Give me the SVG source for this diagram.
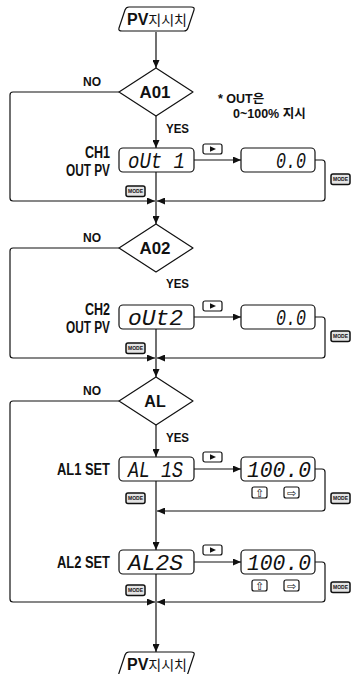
<svg xmlns="http://www.w3.org/2000/svg" width="351" height="674" viewBox="0 0 351 674">
<style>
.ln{fill:none;stroke:#111;stroke-width:1.2}
.shape{fill:#fff;stroke:#111;stroke-width:1.2;stroke-linejoin:round}
.b{font-family:"Liberation Sans","Noto Sans CJK KR",sans-serif;font-weight:bold;fill:#111}
.big{font-size:16px}
.sm{font-size:12px}
.seg{font-family:"Liberation Mono",monospace;font-style:italic;font-size:22px;fill:#111}
.kr{font-family:"Noto Sans CJK KR",sans-serif;font-weight:normal;fill:#111}
.btn{fill:#fff;stroke:#111;stroke-width:1.2}
.mode{fill:#e4e4e4;stroke:#111;stroke-width:1.5}
.mt{font-family:"Liberation Sans",sans-serif;font-weight:bold;font-size:6px;fill:#111}
.sym{font-family:"DejaVu Sans",sans-serif;font-size:11px;fill:#111}
</style>
<defs>
<marker id="ah" markerUnits="userSpaceOnUse" markerWidth="8" markerHeight="7" refX="8" refY="3.5" orient="auto">
<path d="M0,0 L8,3.5 L0,7 z" fill="#111"/>
</marker>
<g id="modebtn"><rect class="mode" x="0" y="0" width="19" height="10.5" rx="2"/><text class="mt" x="2" y="7.4" textLength="15" lengthAdjust="spacingAndGlyphs">MODE</text></g>
<g id="playbtn"><rect class="btn" x="0" y="0" width="19" height="10" rx="2"/><path d="M7,2.3 L13,5 L7,7.7 z" fill="#111"/></g>
</defs>

<g id="connectors">
<path class="ln" marker-end="url(#ah)" d="M156,32 V68"/>
<path class="ln" marker-end="url(#ah)" d="M156,116 V148"/>
<path class="ln" marker-end="url(#ah)" d="M119,92 H13 Q10,92 10,95 V198 Q10,201 13,201 H155"/>
<path class="ln" marker-end="url(#ah)" d="M194,160 H241"/>
<path class="ln" marker-end="url(#ah)" d="M315,160 H322 Q325,160 325,163 V198 Q325,201 322,201 H157"/>
<path class="ln" marker-end="url(#ah)" d="M156,172 V224"/>
<path class="ln" marker-end="url(#ah)" d="M119,248 H13 Q10,248 10,251 V355 Q10,358 13,358 H155"/>
<path class="ln" marker-end="url(#ah)" d="M194,317 H241"/>
<path class="ln" marker-end="url(#ah)" d="M315,317 H322 Q325,317 325,320 V355 Q325,358 322,358 H157"/>
<path class="ln" marker-end="url(#ah)" d="M156,329 V377"/>
<path class="ln" marker-end="url(#ah)" d="M119,401 H13 Q10,401 10,404 V599 Q10,602 13,602 H155"/>
<path class="ln" marker-end="url(#ah)" d="M156,425 V457"/>
<path class="ln" marker-end="url(#ah)" d="M194,469 H241"/>
<path class="ln" marker-end="url(#ah)" d="M315,469 H322 Q325,469 325,472 V508 Q325,511 322,511 H157"/>
<path class="ln" marker-end="url(#ah)" d="M156,481 V550"/>
<path class="ln" marker-end="url(#ah)" d="M194,562 H241"/>
<path class="ln" marker-end="url(#ah)" d="M315,562 H322 Q325,562 325,565 V599 Q325,602 322,602 H157"/>
<path class="ln" marker-end="url(#ah)" d="M156,574 V652"/>
</g>

<g id="start">
<path class="shape" d="M129,7 H191 Q195,7 194,10 L188,28 Q187,31 184,31 H122 Q118,31 119,28 L125,10 Q126,7 129,7 z"/>
<text x="157" y="25" text-anchor="middle"><tspan class="b" font-size="16">PV</tspan><tspan class="kr" font-size="14">지시치</tspan></text>
</g>

<g id="note">
<text class="b" x="218" y="103" font-size="12.5">* OUT은</text>
<text class="b" x="233" y="118" font-size="12.5">0~100% 지시</text>
</g>

<g id="ao1">
<path class="shape" d="M156,68 L193,92 L156,116 L119,92 z"/>
<text class="b big" x="155" y="98" text-anchor="middle" textLength="31" lengthAdjust="spacingAndGlyphs">A01</text>
<text class="b sm" x="92" y="86" text-anchor="middle">NO</text>
<text class="b sm" x="166" y="133" textLength="23" lengthAdjust="spacingAndGlyphs">YES</text>
</g>

<g id="out1">
<text class="b big" x="110" y="158" text-anchor="end" textLength="25" lengthAdjust="spacingAndGlyphs">CH1</text>
<text class="b big" x="110" y="176" text-anchor="end" textLength="44" lengthAdjust="spacingAndGlyphs">OUT PV</text>
<rect class="shape" x="119" y="148" width="75" height="24" rx="4"/>
<text class="seg" x="128" y="167.5" textLength="57" lengthAdjust="spacingAndGlyphs">oUt 1</text>
<use href="#playbtn" x="203" y="144"/>
<use href="#modebtn" x="126" y="186"/>
</g>

<g id="out1val">
<rect class="shape" x="241" y="148" width="74" height="24" rx="4"/>
<text class="seg" x="306" y="167.5" text-anchor="end" textLength="30" lengthAdjust="spacingAndGlyphs">0.0</text>
<use href="#modebtn" x="331" y="174"/>
</g>

<g id="ao2">
<path class="shape" d="M156,224 L193,248 L156,272 L119,248 z"/>
<text class="b big" x="155" y="254" text-anchor="middle" textLength="31" lengthAdjust="spacingAndGlyphs">A02</text>
<text class="b sm" x="92" y="242" text-anchor="middle">NO</text>
<text class="b sm" x="166" y="288" textLength="23" lengthAdjust="spacingAndGlyphs">YES</text>
</g>

<g id="out2">
<text class="b big" x="110" y="315" text-anchor="end" textLength="25" lengthAdjust="spacingAndGlyphs">CH2</text>
<text class="b big" x="110" y="333" text-anchor="end" textLength="44" lengthAdjust="spacingAndGlyphs">OUT PV</text>
<rect class="shape" x="119" y="305" width="75" height="24" rx="4"/>
<text class="seg" x="128" y="324.5" textLength="55" lengthAdjust="spacingAndGlyphs">oUt2</text>
<use href="#playbtn" x="203" y="301"/>
<use href="#modebtn" x="126" y="343"/>
</g>

<g id="out2val">
<rect class="shape" x="241" y="305" width="74" height="24" rx="4"/>
<text class="seg" x="306" y="324.5" text-anchor="end" textLength="30" lengthAdjust="spacingAndGlyphs">0.0</text>
<use href="#modebtn" x="331" y="331"/>
</g>

<g id="al">
<path class="shape" d="M156,377 L193,401 L156,425 L119,401 z"/>
<text class="b big" x="155" y="407" text-anchor="middle">AL</text>
<text class="b sm" x="92" y="395" text-anchor="middle">NO</text>
<text class="b sm" x="166" y="442" textLength="23" lengthAdjust="spacingAndGlyphs">YES</text>
</g>

<g id="al1s">
<text class="b big" x="110" y="475" text-anchor="end" textLength="53" lengthAdjust="spacingAndGlyphs">AL1 SET</text>
<rect class="shape" x="119" y="457" width="75" height="24" rx="4"/>
<text class="seg" x="128" y="476.5" textLength="55" lengthAdjust="spacingAndGlyphs">AL 1S</text>
<use href="#playbtn" x="203" y="452"/>
<use href="#modebtn" x="126" y="493"/>
</g>

<g id="al1val">
<rect class="shape" x="241" y="457" width="74" height="24" rx="4"/>
<text class="seg" x="247" y="476.5" textLength="64" lengthAdjust="spacingAndGlyphs">100.0</text>
<rect class="btn" x="252" y="487" width="15" height="11" rx="2"/>
<text class="sym" x="259.5" y="496.5" text-anchor="middle">⇧</text>
<rect class="btn" x="284" y="487" width="15" height="11" rx="2"/>
<text class="sym" x="291.5" y="496.5" text-anchor="middle">⇨</text>
<use href="#modebtn" x="331" y="493"/>
</g>

<g id="al2s">
<text class="b big" x="110" y="568" text-anchor="end" textLength="53" lengthAdjust="spacingAndGlyphs">AL2 SET</text>
<rect class="shape" x="119" y="550" width="75" height="24" rx="4"/>
<text class="seg" x="128" y="569.5" textLength="55" lengthAdjust="spacingAndGlyphs">AL2S</text>
<use href="#playbtn" x="203" y="545"/>
<use href="#modebtn" x="126" y="585"/>
</g>

<g id="al2val">
<rect class="shape" x="241" y="550" width="74" height="24" rx="4"/>
<text class="seg" x="247" y="569.5" textLength="64" lengthAdjust="spacingAndGlyphs">100.0</text>
<rect class="btn" x="252" y="580" width="15" height="11" rx="2"/>
<text class="sym" x="259.5" y="589.5" text-anchor="middle">⇧</text>
<rect class="btn" x="284" y="580" width="15" height="11" rx="2"/>
<text class="sym" x="291.5" y="589.5" text-anchor="middle">⇨</text>
<use href="#modebtn" x="331" y="582"/>
</g>

<g id="end">
<path class="shape" d="M129,652 H191 Q195,652 194,655 L188,673 Q187,676 184,676 H122 Q118,676 119,673 L125,655 Q126,652 129,652 z"/>
<text x="157" y="670" text-anchor="middle"><tspan class="b" font-size="16">PV</tspan><tspan class="kr" font-size="14">지시치</tspan></text>
</g>
</svg>
